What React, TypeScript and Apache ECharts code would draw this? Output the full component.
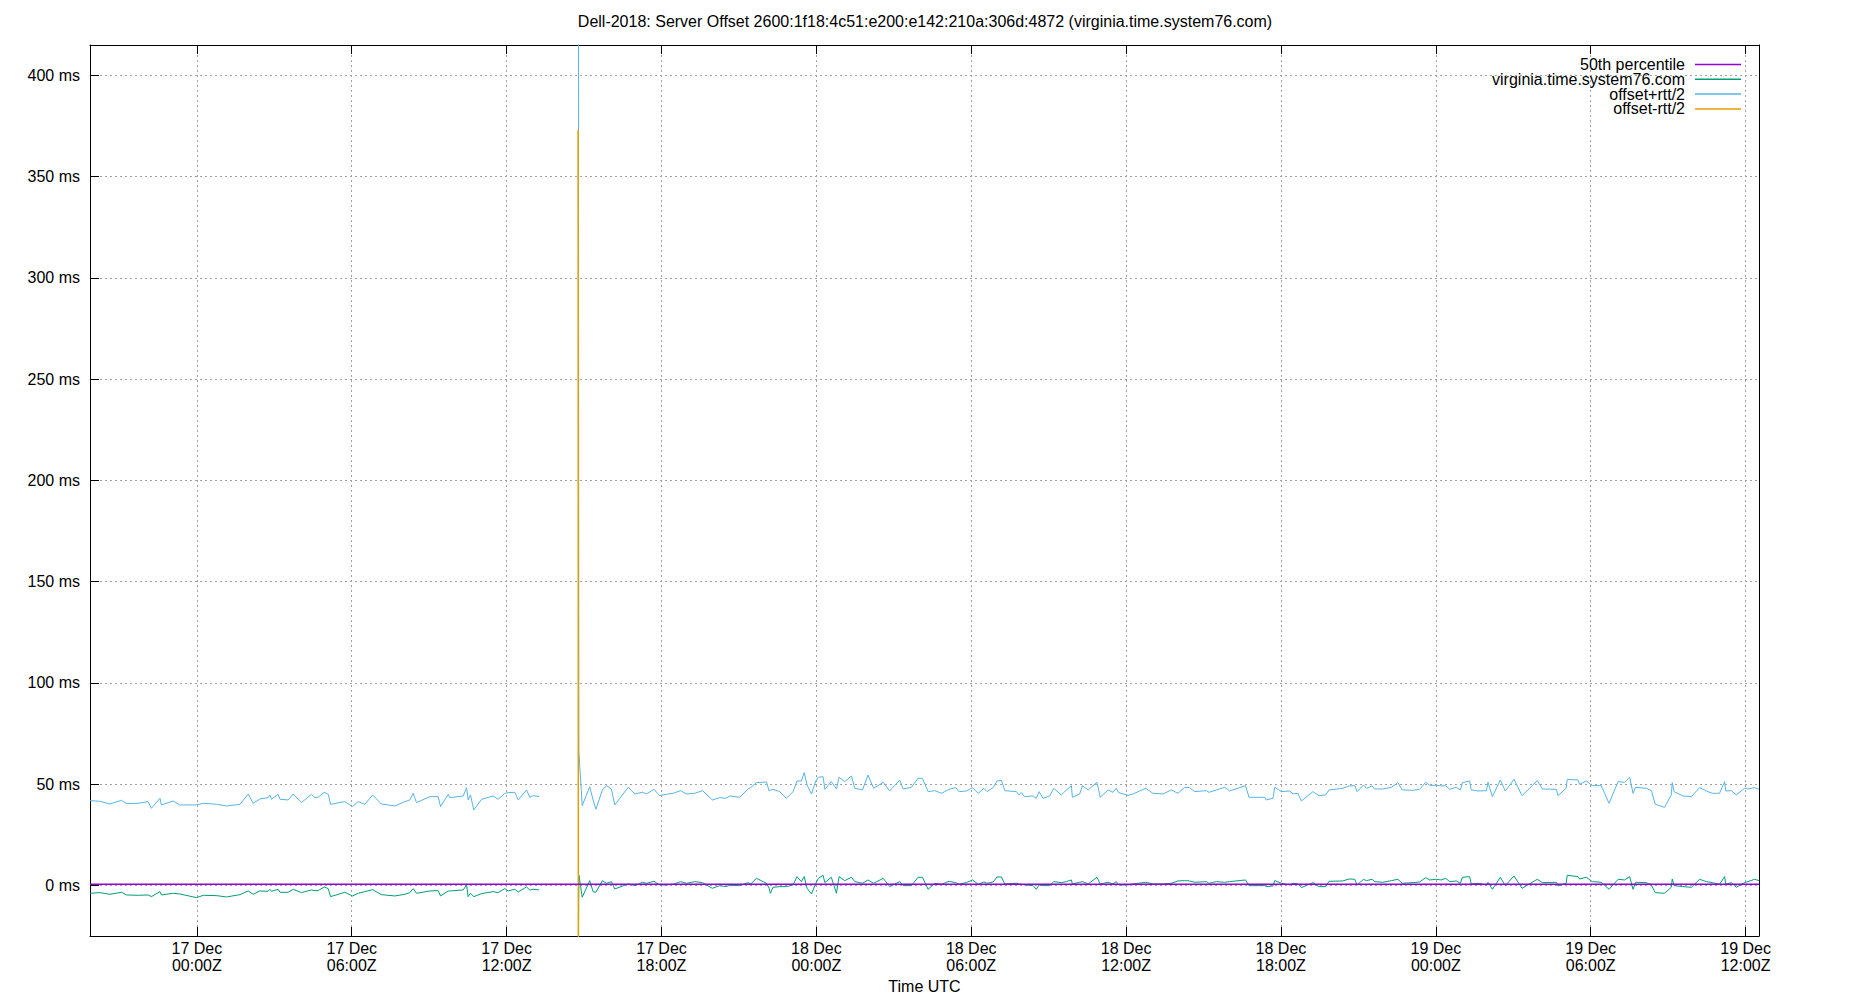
import React, { useEffect, useRef } from 'react';
import * as echarts from 'echarts';

const TITLE = 'Dell-2018: Server Offset 2600:1f18:4c51:e200:e142:210a:306d:4872 (virginia.time.system76.com)';
const seriesNames = ['50th percentile', 'virginia.time.system76.com', 'offset+rtt/2', 'offset-rtt/2'];
const seriesColors = ['#9400d3', '#009e73', '#56b4e9', '#e69f00'];

// x in hours since 17 Dec 00:00Z
const X_MIN = -4.14;
const X_MAX = 60.52;
const Y_MIN = -25;
const Y_MAX = 415;
const xTickHours = [0, 6, 12, 18, 24, 30, 36, 42, 48, 54, 60];
const xTickLabels = [
  '17 Dec\n00:00Z', '17 Dec\n06:00Z', '17 Dec\n12:00Z', '17 Dec\n18:00Z',
  '18 Dec\n00:00Z', '18 Dec\n06:00Z', '18 Dec\n12:00Z', '18 Dec\n18:00Z',
  '19 Dec\n00:00Z', '19 Dec\n06:00Z', '19 Dec\n12:00Z',
];
const yTickValues = [0, 50, 100, 150, 200, 250, 300, 350, 400];

// [hours, offset ms, offset+rtt/2 ms]
const samplesBeforeGap: [number, number, number][] = [
  [-4.14, -3.91, 41.85], [-3.76, -3.58, 41.52], [-3.37, -4.40, 40.20], [-2.92, -3.42, 42.01],
  [-2.72, -4.73, 40.37], [-2.27, -4.90, 40.53], [-1.89, -4.73, 41.36], [-1.76, -5.56, 38.06],
  [-1.43, -3.09, 43.00], [-1.37, -4.73, 39.71], [-0.92, -3.91, 41.68], [-0.66, -4.24, 39.71],
  [-0.01, -6.05, 39.71], [0.25, -4.90, 40.53], [0.76, -5.06, 40.04], [1.15, -5.72, 39.21],
  [1.67, -4.57, 40.04], [1.99, -2.76, 45.14], [2.18, -4.40, 40.53], [2.44, -2.76, 42.67],
  [2.76, -2.92, 43.33], [2.83, -1.94, 44.65], [2.89, -2.92, 42.51], [3.15, -1.94, 44.98],
  [3.22, -3.42, 42.51], [3.54, -3.42, 42.18], [3.73, -1.94, 45.14], [4.05, -3.58, 40.86],
  [4.44, -2.26, 44.98], [4.57, -2.59, 43.33], [4.70, -2.59, 43.50], [4.93, -0.78, 45.96],
  [5.09, -1.61, 44.98], [5.18, -5.56, 40.04], [5.73, -3.42, 41.36], [6.03, -5.23, 38.89],
  [6.25, -3.91, 41.36], [6.51, -3.09, 40.04], [6.81, -2.10, 44.65], [7.15, -4.57, 40.20],
  [7.67, -5.23, 39.21], [8.06, -4.40, 41.36], [8.25, -3.58, 42.18], [8.38, -1.61, 45.47],
  [8.51, -3.91, 40.86], [9.03, -2.76, 43.82], [9.35, -2.59, 43.82], [9.44, -5.23, 38.89],
  [9.74, -2.76, 44.98], [9.80, -2.76, 43.33], [10.32, -2.26, 44.15], [10.45, 0.20, 48.27],
  [10.51, -5.56, 42.18], [10.60, -3.91, 44.65], [10.73, -5.56, 37.24], [11.03, -4.07, 42.51],
  [11.48, -3.09, 44.15], [11.67, -3.58, 42.51], [11.93, -1.61, 45.47], [12.06, -2.76, 45.80],
  [12.32, -1.94, 45.96], [12.45, -3.25, 42.18], [12.77, -0.78, 47.12], [12.90, -2.26, 43.50],
  [13.03, -1.94, 44.32], [13.26, -2.26, 43.82],
];

const GAP_HOUR = 14.0;

const samplesAfterGap: [number, number, number][] = [
  [14.77, -60, 700], [14.80, 5.1, 66.0], [14.93, -5.89, 39.38], [15.22, 2.34, 48.76],
  [15.35, -3.09, 42.18], [15.46, -3.42, 37.57], [15.71, 2.34, 47.12], [15.87, 1.03, 49.25],
  [16.06, 1.85, 47.61], [16.19, -1.77, 39.71], [16.71, 0.70, 48.43], [16.97, -0.13, 45.14],
  [17.26, 1.52, 45.96], [17.42, 1.03, 45.14], [17.71, 2.01, 47.44], [17.93, 0.20, 44.32],
  [18.19, 0.20, 44.97], [18.45, 0.53, 45.47], [18.74, 1.85, 46.78], [18.97, 1.03, 45.14],
  [19.29, 1.85, 45.47], [19.59, 1.36, 46.78], [19.97, -1.44, 42.18], [20.26, -0.13, 43.33],
  [20.49, -0.62, 43.00], [20.65, 0.04, 44.15], [21.03, -0.13, 43.49], [21.36, 1.36, 47.61],
  [21.46, 0.70, 48.27], [21.68, 3.49, 50.74], [22.07, 1.03, 51.07], [22.17, -1.44, 46.62],
  [22.22, -3.91, 46.95], [22.32, -0.95, 47.44], [22.58, -0.62, 46.29], [22.84, -0.62, 43.00],
  [23.10, 0.20, 46.29], [23.25, 4.32, 51.56], [23.42, 1.85, 51.56], [23.53, 4.32, 55.67],
  [23.64, -1.44, 49.58], [23.81, -4.24, 45.14], [23.98, 1.03, 51.56], [24.08, 3.49, 53.37],
  [24.26, 4.98, 53.70], [24.33, 1.36, 47.44], [24.58, 3.99, 51.23], [24.78, -3.91, 47.61],
  [24.88, 4.32, 53.37], [25.10, 2.34, 51.23], [25.36, 3.99, 54.03], [25.49, 1.85, 47.94],
  [25.79, 1.03, 47.12], [26.00, 2.67, 54.52], [26.22, 1.03, 47.94], [26.59, 3.49, 50.90],
  [26.84, -0.62, 46.62], [27.23, 1.85, 52.05], [27.36, -0.13, 47.61], [27.68, -0.13, 48.43],
  [27.94, 3.99, 52.88], [28.11, 3.99, 52.88], [28.33, -1.94, 46.29], [28.59, 1.03, 46.78],
  [28.85, 0.53, 45.47], [29.14, 2.01, 47.44], [29.40, 1.36, 48.27], [29.53, 0.53, 46.29],
  [29.81, 1.36, 46.62], [30.05, 2.67, 48.27], [30.27, 0.53, 45.47], [30.49, 1.69, 47.94],
  [30.61, 1.03, 46.29], [30.85, 1.69, 48.27], [31.00, 4.15, 51.56], [31.17, 4.15, 51.89],
  [31.30, 0.70, 46.78], [31.75, 1.03, 46.29], [31.85, 0.70, 44.65], [31.94, 0.53, 45.80],
  [32.07, 0.20, 43.82], [32.40, -0.13, 44.15], [32.52, -1.94, 43.00], [32.63, 0.20, 46.29],
  [32.78, -0.13, 43.00], [33.04, -0.13, 44.15], [33.20, 1.85, 47.94], [33.49, 1.36, 44.65],
  [33.69, 1.85, 47.12], [33.88, 2.67, 49.25], [33.92, 0.70, 43.49], [34.20, 1.52, 45.14],
  [34.31, 1.85, 49.25], [34.53, 0.70, 47.12], [34.87, 3.99, 50.90], [35.00, 0.70, 43.49],
  [35.30, 1.52, 47.12], [35.49, 0.70, 45.96], [35.62, 1.85, 47.94], [35.71, 0.20, 45.80],
  [36.08, 0.20, 44.48], [36.27, 0.70, 45.14], [36.76, 1.52, 47.94], [37.04, 0.70, 45.47],
  [37.43, 0.70, 45.14], [37.75, 1.03, 47.12], [38.01, 2.18, 45.47], [38.27, 2.34, 48.43],
  [38.46, 2.18, 48.27], [38.66, 1.52, 46.29], [39.11, 1.85, 46.78], [39.21, 1.03, 45.96],
  [39.50, 1.85, 47.12], [39.82, 1.52, 48.43], [40.01, 1.85, 46.62], [40.63, 2.67, 49.25],
  [40.76, -0.13, 43.49], [41.37, -0.13, 43.49], [41.43, -0.62, 42.18], [41.69, -0.29, 43.00],
  [41.76, 2.34, 48.43], [42.02, 1.03, 46.29], [42.34, 0.20, 46.62], [42.47, 1.03, 45.14],
  [42.66, 0.70, 45.47], [42.79, -1.11, 41.68], [43.24, 1.36, 46.29], [43.47, -0.62, 44.32],
  [43.73, -0.62, 44.65], [43.86, 2.01, 47.12], [44.40, 2.18, 47.94], [44.64, 3.17, 49.09],
  [44.86, 3.00, 49.25], [44.95, 0.20, 46.29], [45.20, 3.00, 49.58], [45.31, 2.34, 47.94],
  [45.53, 3.00, 49.09], [45.63, 1.85, 47.61], [45.95, 1.52, 47.61], [46.28, 2.34, 48.43],
  [46.53, 3.00, 50.74], [46.70, 1.03, 47.12], [47.12, 1.36, 46.95], [47.37, 1.69, 47.44],
  [47.61, 3.82, 50.90], [47.76, 2.67, 49.42], [48.02, 3.00, 49.42], [48.21, 2.67, 49.09],
  [48.38, 3.49, 49.25], [48.54, 1.85, 47.44], [48.79, 2.18, 48.43], [48.95, 1.03, 47.12],
  [49.03, 3.99, 50.74], [49.31, 4.32, 51.56], [49.37, 0.70, 47.12], [49.63, 1.03, 46.62],
  [49.96, 0.20, 46.78], [50.02, 1.52, 50.90], [50.19, -1.94, 43.82], [50.50, 3.99, 52.05],
  [50.69, -0.13, 46.62], [51.03, 4.65, 52.38], [51.34, -1.44, 44.32], [51.93, 3.00, 51.72],
  [52.13, 1.36, 47.61], [52.67, 1.52, 47.44], [52.73, -0.29, 44.32], [53.05, 1.03, 47.94],
  [53.09, 4.98, 52.38], [53.51, 4.32, 52.05], [53.57, 3.17, 49.91], [53.83, 3.99, 51.56],
  [54.06, 1.85, 49.25], [54.41, 1.52, 49.25], [54.71, -1.94, 40.53], [55.06, 3.00, 51.23],
  [55.31, 2.67, 50.90], [55.51, 4.32, 53.37], [55.64, -1.94, 45.47], [55.74, 1.52, 48.43],
  [56.15, 1.36, 47.94], [56.35, 0.20, 46.78], [56.50, -3.58, 40.04], [56.86, -3.91, 38.55],
  [57.12, -0.95, 44.65], [57.16, 3.17, 50.74], [57.23, -0.13, 46.29], [57.57, -0.62, 44.15],
  [57.90, -0.95, 43.82], [58.22, 3.00, 48.27], [58.48, 1.85, 46.62], [58.71, 1.36, 45.47],
  [58.99, 0.53, 45.47], [59.19, 4.32, 51.23], [59.23, 0.53, 46.62], [59.45, 1.36, 46.78],
  [59.64, -0.95, 44.65], [59.96, 1.36, 47.94], [60.09, 1.85, 47.61], [60.35, 3.00, 48.27],
  [60.52, 2.34, 47.44],
];

// offset-rtt/2: only the spike reaches the visible range, the rest lies below the axis
const minusBeforeGap: [number, number][] = [[-4.14, -49.6], [4.93, -47.5], [13.26, -48.3]];
const minusAfterGap: [number, number][] = [
  [14.77, 373], [14.78, -60], [14.93, -51.2], [23.53, -47.0], [40.0, -43.0], [60.52, -42.8],
];

const percentile50: [number, number][] = [[X_MIN, 0.5], [X_MAX, 0.5]];

const FONT = 'Liberation Sans, Arial, sans-serif';

function buildOption() {
  const gapPoint: [number, number | null] = [GAP_HOUR, null];
  const offsetData = [
    ...samplesBeforeGap.map((r) => [r[0], r[1]]),
    gapPoint,
    ...samplesAfterGap.map((r) => [r[0], r[1]]),
  ];
  const plusData = [
    ...samplesBeforeGap.map((r) => [r[0], r[2]]),
    gapPoint,
    ...samplesAfterGap.map((r) => [r[0], r[2]]),
  ];
  const minusData = [...minusBeforeGap, gapPoint, ...minusAfterGap];

  const gridLine = { show: true, lineStyle: { color: '#a0a0a0', width: 1, type: [2, 3] } };
  const axisLineBlack = { show: true, onZero: false, lineStyle: { color: '#000', width: 1 } };

  const lineSeries = (i: number, data: any[], width: number, z: number) => ({
    name: seriesNames[i],
    type: 'line',
    data,
    xAxisIndex: 0,
    yAxisIndex: 0,
    showSymbol: false,
    symbol: 'none',
    connectNulls: false,
    clip: true,
    z,
    color: seriesColors[i],
    lineStyle: { color: seriesColors[i], width },
    emphasis: { disabled: true },
  });

  return {
    animation: false,
    backgroundColor: '#ffffff',
    textStyle: { fontFamily: FONT, color: '#000' },
    title: {
      text: TITLE,
      left: 'center',
      top: 13,
      padding: 0,
      textStyle: { fontFamily: FONT, fontSize: 16, fontWeight: 'normal', color: '#000' },
    },
    legend: {
      orient: 'vertical',
      right: 109,
      top: 56.5,
      padding: 0,
      itemGap: -1.2,
      itemWidth: 46,
      itemHeight: 1.5,
      align: 'right',
      icon: 'rect',
      selectedMode: false,
      data: seriesNames,
      textStyle: { fontFamily: FONT, fontSize: 16, color: '#000', lineHeight: 15, padding: [0, 5, 0, 0] },
    },
    grid: { left: 90, right: 91, top: 45, bottom: 64, containLabel: false, outerBoundsMode: 'none' },
    xAxis: [
      {
        type: 'value',
        position: 'bottom',
        min: X_MIN,
        max: X_MAX,
        axisLine: axisLineBlack,
        axisTick: { show: true, inside: true, length: 9, customValues: xTickHours, lineStyle: { color: '#000', width: 1 } },
        axisLabel: {
          show: true,
          customValues: xTickHours,
          margin: 4,
          fontFamily: FONT,
          fontSize: 16,
          lineHeight: 17,
          color: '#000',
          align: 'center',
          formatter: (v: number) => {
            const i = xTickHours.indexOf(Math.round(v));
            return i >= 0 ? xTickLabels[i] : '';
          },
        },
        splitLine: gridLine,
        name: 'Time UTC',
        nameLocation: 'middle',
        nameGap: 42,
        nameTextStyle: { fontFamily: FONT, fontSize: 16, color: '#000' },
      },
      {
        type: 'value',
        position: 'top',
        min: X_MIN,
        max: X_MAX,
        axisLine: axisLineBlack,
        axisTick: { show: true, inside: true, length: 9, customValues: xTickHours, lineStyle: { color: '#000', width: 1 } },
        axisLabel: { show: false },
        splitLine: { show: false },
      },
    ],
    yAxis: [
      {
        type: 'value',
        position: 'left',
        min: Y_MIN,
        max: Y_MAX,
        axisLine: axisLineBlack,
        axisTick: { show: true, inside: true, length: 9, customValues: yTickValues, lineStyle: { color: '#000', width: 1 } },
        axisLabel: {
          show: true,
          customValues: yTickValues,
          margin: 10,
          fontFamily: FONT,
          fontSize: 16,
          color: '#000',
          formatter: (v: number) => `${v} ms`,
        },
        splitLine: gridLine,
      },
      {
        type: 'value',
        position: 'right',
        min: Y_MIN,
        max: Y_MAX,
        axisLine: axisLineBlack,
        axisTick: { show: false },
        axisLabel: { show: false },
        splitLine: { show: false },
      },
    ],
    series: [
      lineSeries(0, percentile50, 1.5, 5),
      lineSeries(1, offsetData, 1, 2),
      lineSeries(2, plusData, 1, 3),
      lineSeries(3, minusData, 1.5, 4),
    ],
  };
}

export default function App() {
  const ref = useRef<HTMLDivElement>(null);
  useEffect(() => {
    document.body.style.margin = '0';
    const chart = echarts.init(ref.current as HTMLDivElement, null, { renderer: 'svg' });
    chart.setOption(buildOption() as any);
    return () => chart.dispose();
  }, []);
  return <div ref={ref} style={{ width: 1850, height: 1000, background: '#fff' }} />;
}
